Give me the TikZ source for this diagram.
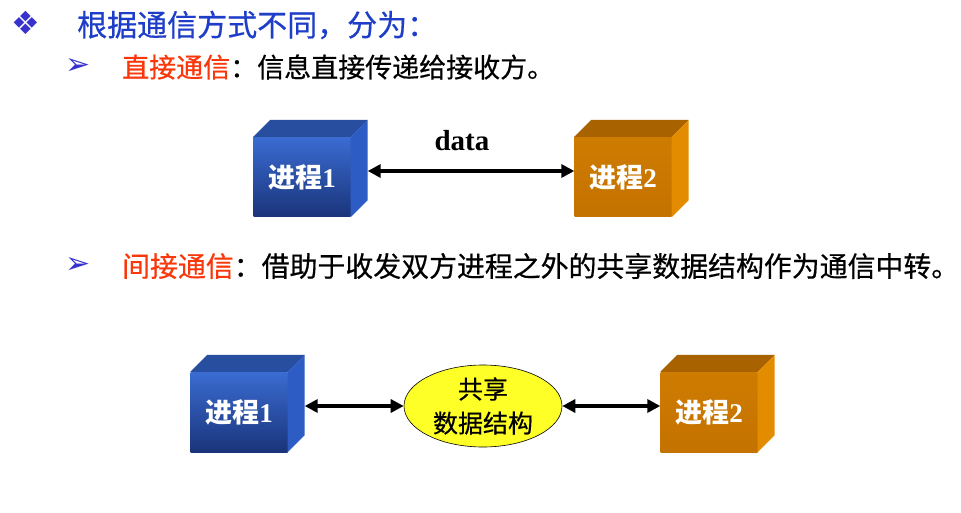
\documentclass[tikz,border=0pt]{standalone}
\usepackage{fontspec}
\setmainfont{Liberation Serif}
\newfontfamily\cjk{Noto Sans CJK SC}
\newfontfamily\cjkh[FakeBold=0.5]{Noto Sans CJK SC}
\newfontfamily\symfont{DejaVu Sans}
\usetikzlibrary{calc,shapes.geometric,arrows.meta}

\definecolor{titleblue}{RGB}{30,62,200}
\definecolor{bulletblue}{RGB}{55,50,205}
\definecolor{hotred}{RGB}{250,55,10}
\definecolor{bluetop}{RGB}{40,78,160}
\definecolor{blueside}{RGB}{44,92,196}
\definecolor{bluehi}{RGB}{58,108,210}
\definecolor{bluelo}{RGB}{26,52,122}
\definecolor{orangetop}{RGB}{168,98,0}
\definecolor{orangeside}{RGB}{228,140,0}
\definecolor{orangehi}{RGB}{206,124,0}
\definecolor{orangelo}{RGB}{196,114,0}
\definecolor{blobyellow}{RGB}{255,255,40}

\tikzset{
  heading/.style={anchor=west, inner sep=0pt, font=\cjkh\fontsize{30}{34}\selectfont, text=titleblue},
  itemline/.style={anchor=west, inner sep=0pt, text=black},
  bulletmark/.style={inner sep=0pt, font=\symfont\fontsize{32}{36}\selectfont, text=bulletblue},
  arrowmark/.style={inner sep=0pt, font=\symfont\fontsize{30}{32}\selectfont, text=bulletblue},
  cubefront/.style={rectangle, minimum width=97pt, minimum height=80pt, inner sep=0pt,
    text=white, font=\fontsize{27}{28}\selectfont\bfseries},
  bluefront/.style={cubefront, top color=bluehi, bottom color=bluelo},
  orangefront/.style={cubefront, top color=orangehi, bottom color=orangelo},
  link/.style={draw=black, line width=3.5pt, {Triangle[length=13pt,width=13pt]}-{Triangle[length=13pt,width=13pt]}},
  blob/.style={ellipse, draw=black, line width=0.6pt, fill=blobyellow, minimum width=158pt, minimum height=82pt,
    inner sep=0pt, align=center, font=\cjkh\fontsize{25}{34}\selectfont}
}

% top and right faces of a cube whose front face is the node #1
\newcommand{\cubefaces}[3]{%
  \fill[#2] (#1.north west) -- ($(#1.north west)+(17,-17)$) -- ($(#1.north east)+(17,-17)$) -- (#1.north east) -- cycle;
  \fill[#3] (#1.north east) -- ($(#1.north east)+(17,-17)$) -- ($(#1.south east)+(17,-17)$) -- (#1.south east) -- cycle;
}
\newcommand{\proclabel}[1]{{\cjk\bfseries 进程}#1}

\begin{document}
\begin{tikzpicture}[x=1pt,y=-1pt]
\useasboundingbox[fill=white] (0,0) rectangle (961,513);

% headings and bullet lines
\node[bulletmark] (b0) at (26,23) {❖};
\node[heading] (h0) at (77,25) {根据通信方式不同，分为：};

\node[arrowmark] (b1) at (78,67) {➢};
\node[itemline, font=\cjkh\fontsize{27}{30}\selectfont] (h1) at (122,67)
  {\textcolor{hotred}{直接通信}：信息直接传递给接收方。};

\node[arrowmark] (b2) at (78,266) {➢};
\node[itemline, font=\cjkh\fontsize{27.9}{30}\selectfont] (h2) at (122,266)
  {\textcolor{hotred}{间接通信}：借助于收发双方进程之外的共享数据结构作为通信中转。};

% direct communication
\node[bluefront] (p1) at (302,177) {\proclabel{1}};
\cubefaces{p1}{bluetop}{blueside}
\node[orangefront] (p2) at (623,177) {\proclabel{2}};
\cubefaces{p2}{orangetop}{orangeside}

\draw[link] ($(p1.east)+(17,-6)$) -- ($(p2.west)+(0,-6)$);
\node[font=\fontsize{29}{30}\selectfont\bfseries] (data) at (462,141) {data};

% indirect communication through a shared structure
\node[bluefront] (q1) at (239,412) {\proclabel{1}};
\cubefaces{q1}{bluetop}{blueside}
\node[orangefront] (q2) at (709,412) {\proclabel{2}};
\cubefaces{q2}{orangetop}{orangeside}
\node[blob] (shm) at (483,406) {共享\\数据结构};

\draw[link] ($(q1.east)+(17,-6)$) -- (shm.west);
\draw[link] (shm.east) -- ($(q2.west)+(0,-6)$);
\end{tikzpicture}
\end{document}
